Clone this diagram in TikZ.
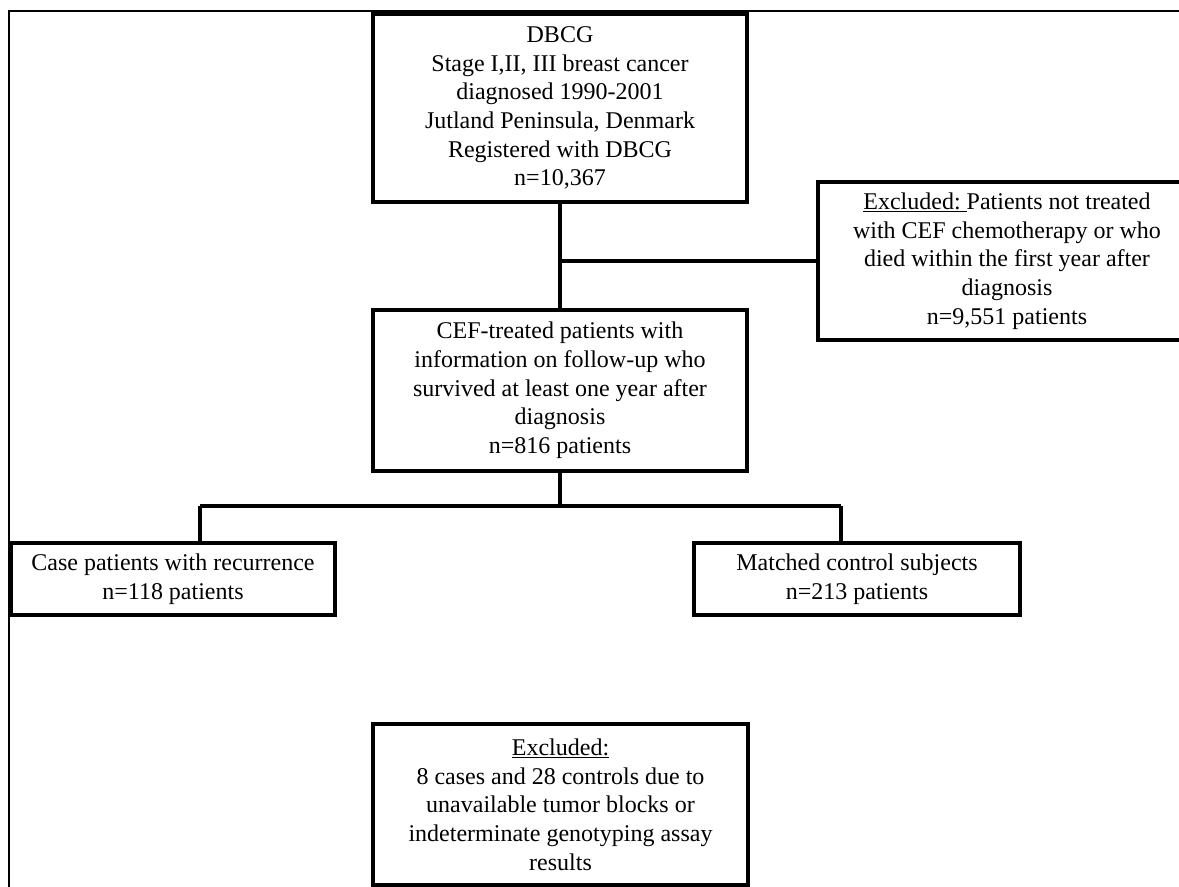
\documentclass[tikz,border=0pt]{standalone}
\usepackage{fontspec}
\setmainfont{Liberation Serif}
\usepackage{tikz}
\usetikzlibrary{positioning,calc}
\newcommand{\boxfont}{\fontsize{18}{21.5}\selectfont}

\begin{document}
\begin{tikzpicture}[x=0.75pt,y=0.75pt,
    box/.style={draw,line width=2.7pt,align=center,inner sep=0pt,font=\boxfont},
    link/.style={line width=2.7pt}]
    \useasboundingbox (0,0) rectangle (1179,887);
    \draw[line width=0.9pt] (9,876) rectangle (1200,-10);
    \node[box,minimum width=280.5pt,minimum height=141pt] (dbcg) at (560,779)
        {DBCG\\Stage I,II, III breast cancer\\diagnosed 1990-2001\\Jutland Peninsula, Denmark\\Registered with DBCG\\n=10,367};
    \node[box,minimum width=283.5pt,minimum height=118.5pt] (excl) at (1007,626)
        {\underline{Excluded:\ }Patients not treated\\with CEF chemotherapy or who\\died within the first year after\\diagnosis\\n=9,551 patients};
    \node[box,minimum width=280.5pt,minimum height=120.75pt] (cef) at (560,496.5)
        {CEF-treated patients with\\information on follow-up who\\survived at least one year after\\diagnosis\\n=816 patients};
    \node[box,minimum width=243pt,minimum height=54pt] (cases) at (173,308)
        {Case patients with recurrence\\n=118 patients};
    \node[box,minimum width=244.5pt,minimum height=54pt] (controls) at (857,308)
        {Matched control subjects\\n=213 patients};
    \node[box,minimum width=281.25pt,minimum height=120.75pt] (exclgeno) at (560.5,82.5)
        {\underline{Excluded:}\\8 cases and 28 controls due to\\unavailable tumor blocks or\\indeterminate genotyping assay\\results};
    % connectors
    \coordinate (lft) at (200,381);
    \coordinate (rgt) at (841,381);
    \draw[link] (dbcg.south) -- (cef.north);
    \draw[link] (dbcg.south |- excl.west) -- (excl.west);
    \draw[link] (cef.south) -- (cef.south |- lft);
    \draw[link] (lft) -- (rgt);
    \draw[link] (lft) -- (lft |- cases.north);
    \draw[link] (rgt) -- (rgt |- controls.north);
\end{tikzpicture}
\end{document}
